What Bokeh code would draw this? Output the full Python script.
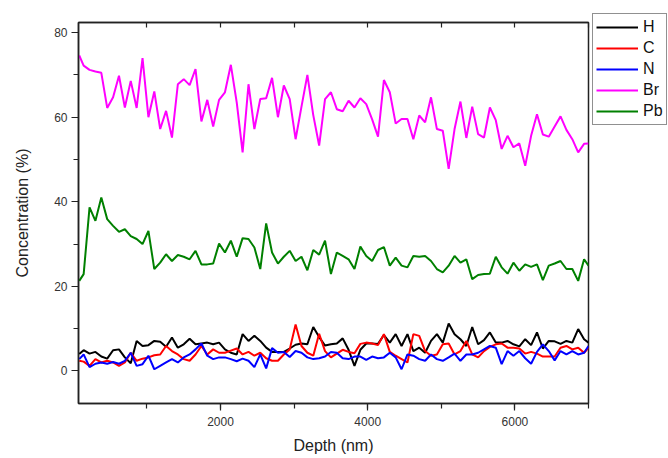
from bokeh.plotting import figure
from bokeh.models import Range1d, LinearAxis, SingleIntervalTicker, Legend, LegendItem
from bokeh.embed import file_html
from bokeh.resources import INLINE

depth = [80, 140, 220, 300, 380, 460, 540, 620, 700, 780, 860, 940, 1020, 1100, 1180, 1260,
         1340, 1420, 1500, 1580, 1660, 1740, 1820, 1900, 1980, 2060, 2140, 2220, 2300, 2380,
         2460, 2540, 2620, 2700, 2780, 2860, 2940, 3020, 3100, 3180, 3260, 3340, 3420, 3500,
         3580, 3660, 3740, 3820, 3900, 3980, 4060, 4140, 4220, 4300, 4380, 4460, 4540, 4620,
         4700, 4780, 4860, 4940, 5020, 5100, 5180, 5260, 5340, 5420, 5500, 5580, 5660, 5740,
         5820, 5900, 5980, 6060, 6140, 6220, 6300, 6380, 6460, 6540, 6620, 6700, 6780, 6860,
         6940, 7000]

H = [4.0, 4.9, 4.1, 4.5, 3.4, 2.9, 4.9, 5.1, 3.2, 1.8, 7.1, 5.9, 6.1, 7.1, 6.9, 5.7,
     7.9, 5.5, 6.3, 7.6, 6.3, 6.5, 6.7, 6.3, 6.7, 5.1, 4.3, 3.9, 8.7, 7.1, 8.3, 7.1,
     5.5, 4.5, 4.5, 4.5, 5.3, 6.2, 6.5, 6.3, 10.4, 8.0, 6.0, 6.3, 6.5, 7.7, 5.0, 1.2,
     5.0, 6.5, 6.5, 6.4, 8.5, 6.7, 8.7, 5.9, 8.7, 4.7, 5.5, 4.3, 7.1, 8.7, 6.7, 11.2,
     8.7, 7.5, 5.9, 10.4, 6.3, 7.3, 9.1, 6.7, 6.7, 7.1, 6.3, 5.8, 7.5, 6.1, 9.1, 5.3,
     7.1, 7.0, 6.4, 7.1, 6.7, 9.9, 7.5, 6.7]

C = [2.4, 2.2, 1.2, 2.8, 2.0, 2.4, 2.0, 1.2, 2.0, 4.3, 2.4, 2.9, 3.2, 3.7, 3.9, 5.9,
     4.7, 3.9, 2.8, 2.4, 3.9, 5.9, 3.9, 5.1, 4.3, 4.3, 4.8, 5.3, 3.9, 4.5, 3.6, 4.3,
     3.0, 2.4, 2.4, 3.9, 5.1, 11.0, 5.9, 4.3, 3.6, 8.8, 4.7, 3.2, 4.1, 5.0, 4.5, 4.2,
     6.4, 6.7, 6.5, 6.1, 8.7, 4.5, 3.6, 2.8, 2.0, 8.7, 8.3, 4.7, 3.6, 3.9, 6.3, 6.5,
     3.9, 4.7, 7.1, 3.9, 3.2, 4.7, 5.7, 6.3, 6.5, 5.5, 5.5, 5.3, 4.1, 4.5, 4.1, 3.4,
     3.4, 3.4, 5.5, 5.9, 5.1, 5.5, 4.3, 5.5]

N = [2.8, 3.9, 0.9, 1.7, 2.0, 1.7, 2.1, 1.7, 2.4, 4.3, 1.2, 1.6, 3.6, 0.4, 1.2, 2.0,
     2.8, 2.0, 3.2, 3.9, 5.1, 6.5, 3.6, 2.8, 3.2, 3.2, 2.8, 2.3, 2.9, 2.4, 0.9, 3.9,
     0.6, 5.4, 4.3, 4.5, 3.3, 4.7, 4.3, 3.2, 2.8, 3.0, 3.4, 4.5, 4.3, 3.0, 2.8, 3.4,
     3.4, 2.6, 3.4, 3.0, 3.2, 4.3, 3.2, 0.4, 3.9, 3.6, 2.8, 2.4, 3.9, 2.8, 2.4, 3.2,
     4.1, 2.4, 3.9, 3.9, 4.3, 5.1, 5.9, 5.5, 1.6, 4.7, 3.6, 4.7, 3.0, 1.7, 4.5, 6.3,
     4.7, 2.5, 4.7, 3.9, 4.7, 3.9, 4.3, 5.9]

Br = [74.6, 72.2, 71.2, 70.8, 70.5, 62.2, 64.7, 69.8, 62.3, 68.6, 62.2, 74.0, 60.0, 66.1,
      57.2, 61.5, 55.2, 67.8, 69.0, 67.6, 71.4, 59.0, 64.1, 57.8, 64.1, 65.9, 72.4, 63.5,
      51.7, 67.8, 57.2, 64.3, 64.5, 69.3, 60.0, 67.5, 64.3, 54.8, 62.5, 70.0, 60.5, 53.3,
      64.3, 65.9, 61.9, 61.4, 63.9, 62.3, 64.5, 63.1, 59.5, 55.4, 68.8, 65.9, 58.5, 59.6,
      59.6, 54.8, 60.4, 58.8, 64.7, 57.2, 56.8, 47.8, 57.2, 63.7, 55.1, 62.5, 56.0, 55.2,
      62.3, 59.3, 52.5, 55.6, 52.9, 53.8, 48.5, 55.6, 60.7, 55.9, 55.4, 57.8, 60.2, 57.0,
      54.8, 51.7, 53.7, 53.8]

Pb = [21.3, 22.9, 38.7, 35.5, 41.0, 35.9, 34.3, 32.9, 33.5, 31.9, 31.2, 30.0, 33.1, 24.1,
      25.6, 27.6, 26.0, 27.4, 27.0, 26.4, 28.4, 25.2, 25.2, 25.4, 30.1, 28.0, 30.8, 27.0,
      31.4, 31.2, 29.2, 24.1, 34.9, 28.0, 25.4, 27.0, 28.4, 26.0, 27.0, 23.8, 28.6, 27.5,
      30.8, 22.9, 28.0, 27.2, 26.4, 24.1, 29.4, 27.2, 26.0, 28.6, 29.3, 24.9, 26.8, 24.9,
      24.5, 27.2, 27.0, 27.2, 26.0, 24.1, 23.3, 24.9, 27.2, 25.6, 26.4, 21.7, 22.7, 22.9,
      23.0, 27.0, 24.5, 23.0, 25.6, 23.7, 25.2, 24.6, 25.2, 21.5, 24.9, 25.4, 26.0, 24.1,
      24.1, 21.3, 26.4, 24.9]

series = [("H", H, "#000000"), ("C", C, "#ff0000"), ("N", N, "#0000ff"),
          ("Br", Br, "#ff00ff"), ("Pb", Pb, "#008000")]

FONT = "Liberation Sans"

p = figure(frame_width=510, frame_height=381, output_backend="svg", toolbar_location=None,
           x_range=Range1d(70, 7000), y_range=Range1d(-7.7, 82.4),
           x_axis_location=None, y_axis_location=None,
           min_border_left=78, min_border_right=80, min_border_top=22, min_border_bottom=55)
p.grid.visible = False
p.outline_line_color = "#222222"
p.outline_line_width = 1.5
p.background_fill_color = "white"
p.border_fill_color = "white"

bottom = LinearAxis(ticker=SingleIntervalTicker(interval=2000, num_minor_ticks=2),
                    axis_label="Depth (nm)")
left = LinearAxis(ticker=SingleIntervalTicker(interval=20, num_minor_ticks=2),
                  axis_label="Concentration (%)")
for ax in (bottom, left):
    ax.axis_line_color = "#222222"
    ax.axis_line_width = 1.5
    ax.major_tick_line_color = "#222222"
    ax.minor_tick_line_color = "#222222"
    ax.major_tick_line_width = 1.2
    ax.minor_tick_line_width = 1.2
    ax.major_tick_in = 0
    ax.major_tick_out = 7
    ax.minor_tick_in = 0
    ax.minor_tick_out = 5
    ax.major_label_text_font = FONT
    ax.major_label_text_font_size = "12px"
    ax.major_label_text_color = "#333333"
    ax.axis_label_text_font = FONT
    ax.axis_label_text_font_size = "16px"
    ax.axis_label_text_font_style = "normal"
    ax.axis_label_text_color = "#222222"
bottom.major_label_standoff = 6
bottom.axis_label_standoff = 8
left.major_label_standoff = 4
left.axis_label_standoff = 20
p.add_layout(bottom, "below")
p.add_layout(left, "left")

top = LinearAxis(ticker=SingleIntervalTicker(interval=1000, num_minor_ticks=0))
top.major_label_text_font_size = "0px"
top.major_label_text_alpha = 0
top.major_label_standoff = 0
top.axis_line_color = "#222222"
top.axis_line_width = 1.5
top.major_tick_in = 5
top.major_tick_out = 0
top.major_tick_line_color = "#222222"
top.major_tick_line_width = 1.2
top.minor_tick_line_color = None
p.add_layout(top, "above")

items = []
for name, vals, col in series:
    r = p.line(depth, vals, line_color=col, line_width=2)
    items.append(LegendItem(label=name, renderers=[r]))

legend = Legend(items=items, location=(4, 278))
legend.label_text_font = FONT
legend.label_text_font_size = "16px"
legend.label_text_color = "#111111"
legend.glyph_width = 42
legend.glyph_height = 20
legend.label_height = 20
legend.label_width = 20
legend.label_standoff = 5
legend.spacing = 1
legend.padding = 3
legend.margin = 0
legend.border_line_color = "#222222"
legend.border_line_width = 1.2
legend.background_fill_color = "white"
legend.background_fill_alpha = 1
p.add_layout(legend, "right")

open("out.html", "w").write(file_html(p, INLINE))
